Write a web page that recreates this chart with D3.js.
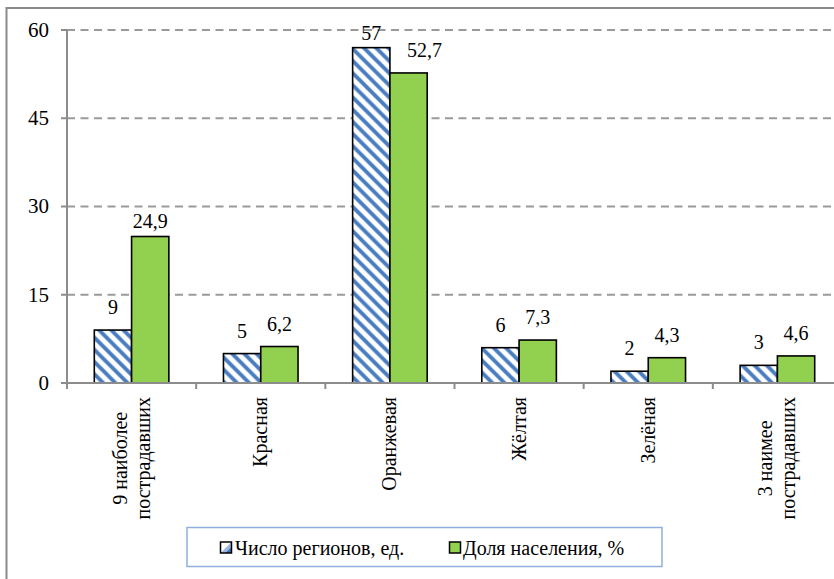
<!DOCTYPE html>
<html>
<head>
<meta charset="utf-8">
<script src="https://cdn.jsdelivr.net/npm/d3@7"></script>
<style>
  html, body { margin: 0; padding: 0; background: #fff; }
  svg { display: block; }
</style>
</head>
<body>
<svg id="chart" width="834" height="579"></svg>
<script>
// ---- data ----
const categories = ["9 наиболее\nпострадавших", "Красная", "Оранжевая", "Жёлтая", "Зелёная", "3 наимее\nпострадавших"];
const seriesNames = ["Число регионов, ед.", "Доля населения, %"];
const regionsCount = [9, 5, 57, 6, 2, 3];
const populationShare = [24.9, 6.2, 52.7, 7.3, 4.3, 4.6];
const populationLabels = ["24,9", "6,2", "52,7", "7,3", "4,3", "4,6"];
const yTicks = [0, 15, 30, 45, 60];

// ---- layout ----
const FONT = "Liberation Serif";
const W = 834, H = 579;
const plot = { left: 67, right: 842, top: 30, bottom: 383 };
const svg = d3.select("#chart").style("font-family", FONT).attr("font-family", FONT);
function txt(sel) { return sel.attr("font-family", FONT).style("font-family", FONT).attr("fill", "#000"); }

svg.append("rect").attr("width", W).attr("height", H).attr("fill", "#fff");

// outer frame (extends beyond the picture on right / bottom)
svg.append("path").attr("d", `M6.5,${H}V8H${W}`)
  .attr("fill", "none").attr("stroke", "#8a8a8a").attr("stroke-width", 2);

// scales
const x0 = d3.scaleBand().domain(categories).range([plot.left, plot.right]).padding(0);
const x1 = d3.scaleBand().domain(seriesNames).range([0, x0.bandwidth()])
  .paddingInner(0).paddingOuter(0.732);
const y = d3.scaleLinear().domain([0, 60]).range([plot.bottom, plot.top]);

const axisColor = "#8c8c8c";

// gridlines
svg.append("g").selectAll("line").data(yTicks.filter(d => d > 0)).join("line")
  .attr("x1", plot.left).attr("x2", W)
  .attr("y1", d => y(d)).attr("y2", d => y(d))
  .attr("stroke", "#9a9a9a").attr("stroke-width", 1.8)
  .attr("stroke-dasharray", "8,5.5");

// y axis (drawn from the scale)
const gy = svg.append("g");
gy.append("path").attr("d", `M${plot.left},${y(60)}V${y(0)}`)
  .attr("stroke", axisColor).attr("stroke-width", 2).attr("fill", "none");
gy.selectAll("line.yt").data(yTicks).join("line").attr("class", "yt")
  .attr("x1", plot.left - 6).attr("x2", plot.left)
  .attr("y1", d => y(d)).attr("y2", d => y(d))
  .attr("stroke", axisColor).attr("stroke-width", 2);
txt(gy.selectAll("text.yl").data(yTicks).join("text").attr("class", "yl"))
  .attr("x", plot.left - 18).attr("y", d => y(d)).attr("dy", "0.33em")
  .attr("text-anchor", "end").attr("font-size", 21)
  .text(d => d3.format("d")(d));

// bars
const barData = [];
categories.forEach((c, i) => {
  barData.push({ i, cat: c, s: seriesNames[0], v: regionsCount[i], label: String(regionsCount[i]) });
  barData.push({ i, cat: c, s: seriesNames[1], v: populationShare[i], label: populationLabels[i] });
});
const bx = d => x0(d.cat) + x1(d.s);

// hatch helpers: clip a convex polygon by half-plane f(p) >= 0
function clipHalf(poly, f) {
  const out = [];
  for (let k = 0; k < poly.length; k++) {
    const p = poly[k], q = poly[(k + 1) % poly.length];
    const fp = f(p), fq = f(q);
    if (fp >= 0) out.push(p);
    if ((fp >= 0) !== (fq >= 0)) {
      const t = fp / (fp - fq);
      out.push([p[0] + t * (q[0] - p[0]), p[1] + t * (q[1] - p[1])]);
    }
  }
  return out;
}
function stripes(x, yT, w, h, halfWidth) {
  const rect = [[x, yT], [x + w, yT], [x + w, yT + h], [x, yT + h]];
  const period = 12.16;
  const cMin = yT - (x + w) - period, cMax = yT + h - x + period;
  const polys = [];
  for (let c = Math.floor(cMin / period) * period; c <= cMax; c += period) {
    let poly = clipHalf(rect, p => (p[1] - p[0]) - (c - halfWidth));
    poly = clipHalf(poly, p => (c + halfWidth) - (p[1] - p[0]));
    if (poly.length >= 3) polys.push(poly);
  }
  return polys;
}

const gBars = svg.append("g");
barData.forEach(d => {
  const x = bx(d), yT = y(d.v), w = x1.bandwidth(), h = y(0) - y(d.v);
  if (d.s === seriesNames[0]) {
    gBars.append("rect").attr("x", x).attr("y", yT).attr("width", w).attr("height", h).attr("fill", "#fff");
    stripes(x, yT, w, h, 3.3).forEach(p => gBars.append("path").attr("d", "M" + p.join("L") + "Z").attr("fill", "#a9c3e6"));
    stripes(x, yT, w, h, 2.2).forEach(p => gBars.append("path").attr("d", "M" + p.join("L") + "Z").attr("fill", "#4a7dc0"));
    gBars.append("rect").attr("x", x).attr("y", yT).attr("width", w).attr("height", h)
      .attr("fill", "none").attr("stroke", "#000").attr("stroke-width", 1.6);
  } else {
    gBars.append("rect").attr("x", x).attr("y", yT).attr("width", w).attr("height", h)
      .attr("fill", "#92d050").attr("stroke", "#000").attr("stroke-width", 1.6);
  }
});

// x axis (ticks at category boundaries)
const gx = svg.append("g");
gx.append("line").attr("x1", plot.left).attr("x2", W)
  .attr("y1", y(0)).attr("y2", y(0)).attr("stroke", axisColor).attr("stroke-width", 2);
gx.selectAll("line.t").data(categories).join("line").attr("class", "t")
  .attr("x1", d => x0(d)).attr("x2", d => x0(d))
  .attr("y1", y(0)).attr("y2", y(0) + 6)
  .attr("stroke", axisColor).attr("stroke-width", 2);

// value labels (a couple of labels were hand-moved in the original)
function nudge(d) {
  if (d.i === 2 && d.s === seriesNames[1]) return [16, 0];
  if (d.i === 0 && d.s === seriesNames[1]) return [0, 7];
  return [0, 0];
}
txt(svg.append("g").selectAll("text").data(barData).join("text"))
  .attr("x", d => bx(d) + x1.bandwidth() / 2 + nudge(d)[0])
  .attr("y", d => Math.max(y(d.v) - 16, 39.5) + nudge(d)[1])
  .attr("text-anchor", "middle")
  .attr("font-size", 20)
  .text(d => d.label);

// category labels (rotated, multi-line centered)
const labelTop = y(0) + 14;
const lineH = 23;
categories.forEach(c => {
  const cx = x0(c) + x0.bandwidth() / 2;
  const lines = c.split("\n");
  const g = svg.append("g").attr("transform", `translate(${cx},0) rotate(-90)`);
  const texts = lines.map((ln, i) => txt(g.append("text"))
    .attr("font-size", 20)
    .attr("text-anchor", "middle")
    .attr("y", (i - (lines.length - 1) / 2) * lineH + 6.5)
    .text(ln));
  const maxW = d3.max(texts, t => t.node().getComputedTextLength());
  texts.forEach(t => t.attr("x", -(labelTop + maxW / 2)));
});

// legend
const lg = svg.append("g");
lg.append("rect").attr("x", 187).attr("y", 527.5).attr("width", 475).attr("height", 39)
  .attr("fill", "#fff").attr("stroke", "#8fb0dc").attr("stroke-width", 1.5);
const legendItems = [
  { name: seriesNames[0], hatch: true, fill: "#fff", mx: 220.5, tx: 235 },
  { name: seriesNames[1], hatch: false, fill: "#92d050", mx: 449.5, tx: 463 }
];
legendItems.forEach(it => {
  lg.append("rect").attr("x", it.mx).attr("y", 542).attr("width", 11).attr("height", 11).attr("fill", it.fill);
  if (it.hatch) {
    lg.append("path").attr("d", `M${it.mx + 11},${542}V${553}H${it.mx}Z`).attr("fill", "#9db8e0");
    lg.append("path").attr("d", `M${it.mx + 11},${547}V${553}H${it.mx + 5}Z`).attr("fill", "#3f70b5");
  }
  lg.append("rect").attr("x", it.mx).attr("y", 542).attr("width", 11).attr("height", 11)
    .attr("fill", "none").attr("stroke", "#000").attr("stroke-width", 1.5);
  txt(lg.append("text")).attr("x", it.tx).attr("y", 555).attr("font-size", 20).text(it.name);
});
</script>
</body>
</html>
